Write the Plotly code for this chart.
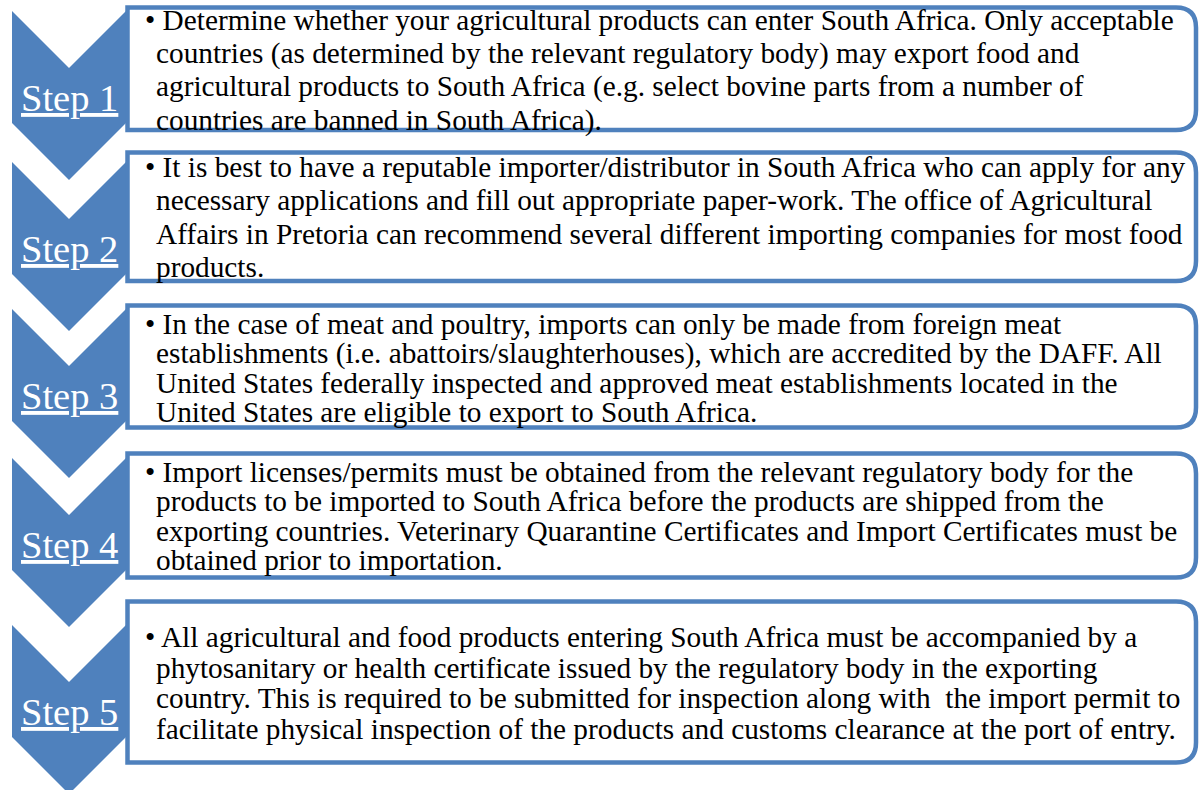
import plotly.graph_objects as go

# ---------------- data ----------------
steps = ["Step 1", "Step 2", "Step 3", "Step 4", "Step 5"]

descriptions = [
    ["• Determine whether your agricultural products can enter South Africa. Only acceptable",
     "countries (as determined by the relevant regulatory body) may export food and",
     "agricultural products to South Africa (e.g. select bovine parts from a number of",
     "countries are banned in South Africa)."],
    ["• It is best to have a reputable importer/distributor in South Africa who can apply for any",
     "necessary applications and fill out appropriate paper-work. The office of Agricultural",
     "Affairs in Pretoria can recommend several different importing companies for most food",
     "products."],
    ["• In the case of meat and poultry, imports can only be made from foreign meat",
     "establishments (i.e. abattoirs/slaughterhouses), which are accredited by the DAFF. All",
     "United States federally inspected and approved meat establishments located in the",
     "United States are eligible to export to South Africa."],
    ["• Import licenses/permits must be obtained from the relevant regulatory body for the",
     "products to be imported to South Africa before the products are shipped from the",
     "exporting countries. Veterinary Quarantine Certificates and Import Certificates must be",
     "obtained prior to importation."],
    ["• All agricultural and food products entering South Africa must be accompanied by a",
     "phytosanitary or health certificate issued by the regulatory body in the exporting",
     "country. This is required to be submitted for inspection along with&nbsp; the import permit to",
     "facilitate physical inspection of the products and customs clearance at the port of entry."],
]

# layout (pixel-space positions of each step row)
chevron_tops = [11, 162, 309, 458, 625]
box_tops = [7.5, 152.5, 305.5, 453.5, 601.5]
box_bottoms = [130, 281, 427.5, 577.5, 762.5]
first_baselines = [29.5, 176.5, 333.5, 481.5, 647]
line_spacing = [33.5, 33.5, 29.5, 29.5, 30.5]

# ---------------- style ----------------
BLUE = "#4F81BD"
W, H = 1199, 790
CH_L, CH_R = 12, 126
CH_BODY, CH_HALF = 112, 57
BOX_L, BOX_R, RAD = 127.5, 1196, 20
TXT_FS, STEP_FS = 29.3, 38.5
SERIF = "Liberation Serif"

fig = go.Figure()
fig.add_trace(go.Scatter(x=[0, W], y=[0, H], mode="markers",
                         marker=dict(opacity=0), hoverinfo="skip", showlegend=False))

shapes = []
annotations = []
cx = (CH_L + CH_R) / 2
for i, label in enumerate(steps):
    t = chevron_tops[i]
    path = (f"M {CH_L},{t} L {cx},{t + CH_HALF} L {CH_R},{t} "
            f"L {CH_R},{t + CH_BODY} L {cx},{t + CH_BODY + CH_HALF} "
            f"L {CH_L},{t + CH_BODY} Z")
    shapes.append(dict(type="path", path=path, xref="x", yref="y",
                       fillcolor=BLUE, line=dict(width=0), layer="below"))
    y0, y1 = box_tops[i], box_bottoms[i]
    bpath = (f"M {BOX_L},{y0} L {BOX_R - RAD},{y0} Q {BOX_R},{y0} {BOX_R},{y0 + RAD} "
             f"L {BOX_R},{y1 - RAD} Q {BOX_R},{y1} {BOX_R - RAD},{y1} L {BOX_L},{y1} Z")
    shapes.append(dict(type="path", path=bpath, xref="x", yref="y",
                       fillcolor="white", line=dict(color=BLUE, width=4.5), layer="below"))
    base = t + 100
    annotations.append(dict(x=cx, y=base - 0.34 * STEP_FS, xref="x", yref="y",
                            text=f"<u>{label}</u>", showarrow=False,
                            xanchor="center", yanchor="middle", borderpad=0,
                            font=dict(family=SERIF, size=STEP_FS, color="white")))
    for j, line in enumerate(descriptions[i]):
        b = first_baselines[i] + j * line_spacing[i]
        annotations.append(dict(x=144 if j == 0 else 155, y=b - 0.34 * TXT_FS,
                                xref="x", yref="y", text=line, showarrow=False,
                                xanchor="left", yanchor="middle", borderpad=0,
                                font=dict(family=SERIF, size=TXT_FS, color="black")))

fig.update_layout(
    width=W, height=H, margin=dict(l=0, r=0, t=0, b=0),
    paper_bgcolor="white", plot_bgcolor="white",
    xaxis=dict(range=[0, W], visible=False, fixedrange=True),
    yaxis=dict(range=[H, 0], visible=False, fixedrange=True),
    shapes=shapes, annotations=annotations, showlegend=False,
)
fig.write_html("out.html", config={"displayModeBar": False, "responsive": False},
               post_script="document.body.style.margin='0';document.body.style.overflow='hidden';")
